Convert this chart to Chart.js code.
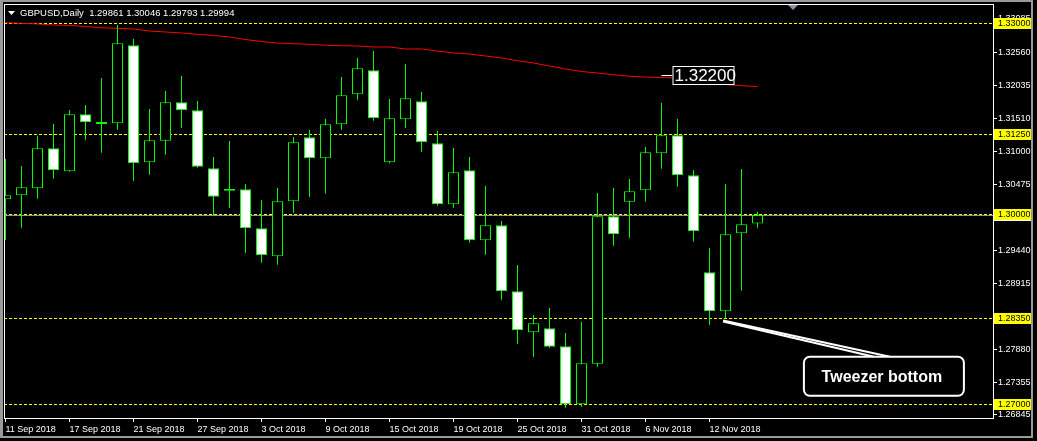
<!DOCTYPE html>
<html>
<head>
<meta charset="utf-8">
<script src="https://cdn.jsdelivr.net/npm/chart.js@4.4.1/dist/chart.umd.min.js"></script>
<style>
  html, body { margin: 0; padding: 0; background: #000; }
  canvas { display: block; }
</style>
</head>
<body>
<canvas id="chart" width="1037" height="441"></canvas>
<script>
// GBPUSD daily candles, 11 Sep - 15 Nov 2018
const dates = [
  '11 Sep 2018', '12 Sep 2018', '13 Sep 2018', '14 Sep 2018',
  '17 Sep 2018', '18 Sep 2018', '19 Sep 2018', '20 Sep 2018', '21 Sep 2018',
  '24 Sep 2018', '25 Sep 2018', '26 Sep 2018', '27 Sep 2018', '28 Sep 2018',
  '1 Oct 2018', '2 Oct 2018', '3 Oct 2018', '4 Oct 2018', '5 Oct 2018',
  '8 Oct 2018', '9 Oct 2018', '10 Oct 2018', '11 Oct 2018', '12 Oct 2018',
  '15 Oct 2018', '16 Oct 2018', '17 Oct 2018', '18 Oct 2018', '19 Oct 2018',
  '22 Oct 2018', '23 Oct 2018', '24 Oct 2018', '25 Oct 2018', '26 Oct 2018',
  '29 Oct 2018', '30 Oct 2018', '31 Oct 2018', '1 Nov 2018', '2 Nov 2018',
  '5 Nov 2018', '6 Nov 2018', '7 Nov 2018', '8 Nov 2018', '9 Nov 2018',
  '12 Nov 2018', '13 Nov 2018', '14 Nov 2018', '15 Nov 2018'
];
const open = [
  1.30241, 1.30304, 1.30415, 1.31045, 1.30683, 1.31581, 1.31460, 1.31439, 1.32669, 1.30824,
  1.31165, 1.31770, 1.31644, 1.30730, 1.30405, 1.30399, 1.29784, 1.29343, 1.30210, 1.31219,
  1.30888, 1.31424, 1.31896, 1.32275, 1.30824, 1.31502, 1.31786, 1.31124, 1.30162, 1.30698,
  1.29595, 1.29831, 1.28791, 1.28144, 1.28207, 1.27924, 1.27009, 1.27649, 1.29973, 1.30203,
  1.30383, 1.30966, 1.31250, 1.30620, 1.29090, 1.28475, 1.29705, 1.29861
];
const high = [
  1.30876, 1.30766, 1.31244, 1.31428, 1.31649, 1.31728, 1.32153, 1.32989, 1.32768, 1.31665,
  1.31948, 1.32185, 1.31791, 1.30908, 1.31160, 1.30482, 1.30225, 1.30419, 1.31223, 1.31334,
  1.31507, 1.32169, 1.32469, 1.32579, 1.31822, 1.32374, 1.31933, 1.31318, 1.31050, 1.30908,
  1.30451, 1.29899, 1.29205, 1.28417, 1.28527, 1.28133, 1.28307, 1.30340, 1.30419, 1.30561,
  1.31066, 1.31759, 1.31507, 1.30703, 1.29473, 1.30478, 1.30719, 1.30046
];
const low = [
  1.29600, 1.29793, 1.30251, 1.30566, 1.30675, 1.31181, 1.30976, 1.31338, 1.30534, 1.30629,
  1.30944, 1.31370, 1.30739, 1.29994, 1.30109, 1.29399, 1.29242, 1.29210, 1.30030, 1.30282,
  1.30329, 1.31338, 1.31811, 1.31480, 1.30810, 1.31370, 1.30992, 1.30140, 1.30109, 1.29557,
  1.29368, 1.28658, 1.27965, 1.27760, 1.27902, 1.26956, 1.26972, 1.27602, 1.29510, 1.29636,
  1.30203, 1.30724, 1.30440, 1.29573, 1.28264, 1.28365, 1.28800, 1.29793
];
const close = [
  1.30304, 1.30430, 1.31045, 1.30698, 1.31581, 1.31455, 1.31430, 1.32700, 1.30809, 1.31171,
  1.31770, 1.31644, 1.30755, 1.30282, 1.30375, 1.29784, 1.29358, 1.30210, 1.31140, 1.30888,
  1.31424, 1.31881, 1.32306, 1.31518, 1.31518, 1.31833, 1.31140, 1.30162, 1.30667, 1.29595,
  1.29831, 1.28791, 1.28176, 1.28286, 1.27917, 1.27009, 1.27656, 1.29973, 1.29689, 1.30367,
  1.30982, 1.31250, 1.30620, 1.29737, 1.28475, 1.29689, 1.29847, 1.29994
];
// moving average (red line)
const ma = [
  1.33025, 1.33016, 1.33005, 1.32989, 1.32984, 1.32965, 1.32945, 1.32937, 1.32926, 1.32894,
  1.32879, 1.32863, 1.32842, 1.32823, 1.32800, 1.32760, 1.32729, 1.32705, 1.32694, 1.32685,
  1.32669, 1.32663, 1.32658, 1.32642, 1.32642, 1.32611, 1.32611, 1.32579, 1.32548, 1.32532,
  1.32500, 1.32469, 1.32426, 1.32390, 1.32343, 1.32295, 1.32256, 1.32232, 1.32205, 1.32180,
  1.32169, 1.32161, 1.32153, 1.32122, 1.32090, 1.32051, 1.32032, 1.32019
];
const priceTicks = [1.33085, 1.32560, 1.32035, 1.31510, 1.31000, 1.30475, 1.29440, 1.28915, 1.27880, 1.27355, 1.26845];
const levels = [1.33000, 1.31250, 1.30000, 1.28350, 1.27000];
const markPrice = 1.32200;
const calloutText = 'Tweezer bottom';

const FONT = "'Liberation Sans', Arial, sans-serif";
const GREEN = '#00ff00';
const last = dates.length - 1;

function bodyColor(i) {
  if (Math.abs(close[i] - open[i]) < 0.0004) return GREEN;
  return close[i] > open[i] ? '#000000' : '#ffffff';
}

const overlay = {
  id: 'overlay',
  beforeDatasetsDraw(chart) {
    const { ctx, chartArea: a, scales: { y } } = chart;
    ctx.save();
    // bid line
    const by = Math.round(y.getPixelForValue(close[last])) + 0.5;
    ctx.strokeStyle = '#8a94a0';
    ctx.lineWidth = 1;
    ctx.beginPath(); ctx.moveTo(a.left, by); ctx.lineTo(a.right, by); ctx.stroke();
    // horizontal levels
    ctx.strokeStyle = '#ffff00';
    ctx.setLineDash([3, 2]);
    levels.forEach(v => {
      const py = Math.round(y.getPixelForValue(v)) - 0.5;
      ctx.beginPath(); ctx.moveTo(a.left, py); ctx.lineTo(a.right, py); ctx.stroke();
    });
    ctx.restore();
  },
  afterDatasetsDraw(chart) {
    const { ctx, scales: { x, y } } = chart;
    ctx.save();
    // 1.32200 price label
    const lx = x.getPixelForValue(41);
    const ly = Math.round(y.getPixelForValue(markPrice));
    ctx.strokeStyle = '#ffffff';
    ctx.lineWidth = 1;
    ctx.beginPath(); ctx.moveTo(lx, ly + 0.5); ctx.lineTo(lx + 11, ly + 0.5); ctx.stroke();
    ctx.fillStyle = '#000';
    ctx.fillRect(lx + 11, ly - 9, 61, 18);
    ctx.strokeRect(lx + 11.5, ly - 8.5, 61, 18);
    ctx.fillStyle = '#ffffff';
    ctx.font = '17px ' + FONT;
    ctx.textBaseline = 'middle';
    ctx.textAlign = 'left';
    ctx.fillText(markPrice.toFixed(5), lx + 13, ly + 1);

    // Tweezer bottom callout
    const tx = x.getPixelForValue(44.85), ty = y.getPixelForValue(1.28330);
    const bx = x.getPixelForValue(49.9), bx2 = x.getPixelForValue(59.9);
    const bt = y.getPixelForValue(1.27760), bb = y.getPixelForValue(1.27142);
    ctx.lineWidth = 2;
    ctx.strokeStyle = '#ffffff';
    ctx.beginPath(); ctx.moveTo(tx, ty); ctx.lineTo(bx + 86, bt); ctx.stroke();
    ctx.beginPath(); ctx.moveTo(tx, ty + 1); ctx.lineTo(bx + 70, bt); ctx.stroke();
    ctx.beginPath();
    ctx.roundRect(bx, bt, bx2 - bx, bb - bt, 6);
    ctx.fillStyle = '#000';
    ctx.fill();
    ctx.stroke();
    ctx.fillStyle = '#ffffff';
    ctx.font = 'bold 16px ' + FONT;
    ctx.textAlign = 'center';
    ctx.fillText(calloutText, (bx + bx2) / 2 - 2, (bt + bb) / 2 + 1);
    ctx.restore();
  },
  afterDraw(chart) {
    const { ctx, chartArea: a, scales: { y } } = chart;
    ctx.save();
    // bid label (mostly hidden) and level labels on the price axis
    const by = y.getPixelForValue(close[last]);
    ctx.fillStyle = '#ffffff';
    ctx.fillRect(a.right + 1, Math.round(by) - 5, 37, 11);
    ctx.font = '9px ' + FONT;
    ctx.textBaseline = 'middle';
    ctx.textAlign = 'left';
    levels.forEach(v => {
      const py = Math.round(y.getPixelForValue(v));
      ctx.fillStyle = '#ffff00';
      ctx.fillRect(a.right + 1, py - 6, 37, 11);
      ctx.fillStyle = '#000';
      ctx.fillText(v.toFixed(5), a.right + 5, py);
    });
    // chart frame
    ctx.fillStyle = '#ffffff';
    ctx.fillRect(a.left, a.top, 1, a.bottom - a.top);
    ctx.fillRect(a.left, a.top, a.right - a.left, 1);
    // window edges
    ctx.fillStyle = '#9a9a9a';
    ctx.fillRect(0, 0, 3, 441);
    ctx.fillRect(0, 0, 1037, 2);
    ctx.fillRect(1031, 0, 2, 441);
    ctx.fillRect(0, 436, 1037, 2);
    ctx.fillStyle = '#000';
    ctx.fillRect(1033, 0, 4, 441);
    ctx.fillRect(0, 438, 1037, 3);
    // chart shift marker
    ctx.fillStyle = '#8a94a0';
    ctx.beginPath(); ctx.moveTo(788, 5); ctx.lineTo(798, 5); ctx.lineTo(793, 10); ctx.closePath(); ctx.fill();
    // title
    ctx.fillStyle = '#ffffff';
    ctx.beginPath(); ctx.moveTo(8, 11); ctx.lineTo(15, 11); ctx.lineTo(11.5, 15); ctx.closePath(); ctx.fill();
    ctx.font = '9.5px ' + FONT;
    ctx.textAlign = 'left';
    ctx.textBaseline = 'alphabetic';
    const ohlc = [open[last], high[last], low[last], close[last]].map(v => v.toFixed(5)).join(' ');
    ctx.fillText('GBPUSD,Daily  ' + ohlc, 20, 16);
    ctx.restore();
  }
};

const ctx = document.getElementById('chart').getContext('2d');
new Chart(ctx, {
  data: {
    datasets: [
      {
        type: 'bar',
        label: 'body',
        order: 0,
        data: dates.map((d, i) => ({ x: i, y: [open[i], close[i]] })),
        backgroundColor: c => bodyColor(c.dataIndex),
        borderColor: GREEN,
        borderWidth: 1,
        borderSkipped: false,
        barThickness: 11,
        grouped: false,
        inflateAmount: 0,
        clip: 0
      },
      {
        type: 'bar',
        label: 'wick',
        order: 1,
        data: dates.map((d, i) => ({ x: i, y: [low[i], high[i]] })),
        backgroundColor: GREEN,
        borderWidth: 0,
        barThickness: 1,
        grouped: false,
        inflateAmount: 0,
        clip: 0
      },
      {
        type: 'line',
        label: 'MA',
        order: 2,
        data: dates.map((d, i) => ({ x: i, y: ma[i] })),
        borderColor: '#ff0000',
        borderWidth: 1,
        pointRadius: 0,
        tension: 0,
        clip: 0
      }
    ]
  },
  options: {
    responsive: false,
    animation: false,
    layout: { padding: { left: 4, top: 4, right: 0, bottom: 0 } },
    plugins: { legend: { display: false }, tooltip: { enabled: false } },
    scales: {
      x: {
        type: 'linear',
        offset: false,
        min: -0.09375,
        max: 61.71875,
        afterFit: s => { s.height = 23; s.paddingLeft = 0; s.paddingRight = 0; },
        afterBuildTicks: s => { s.ticks = dates.map((d, i) => ({ value: i })).filter(t => t.value % 4 === 0); },
        ticks: {
          color: '#ffffff',
          font: { family: FONT, size: 9 },
          align: 'start',
          padding: 2,
          maxRotation: 0,
          autoSkip: false,
          callback: v => dates[v]
        },
        grid: { drawOnChartArea: false, offset: false, tickLength: 4, color: '#ffffff' },
        border: { color: '#ffffff' }
      },
      y: {
        position: 'right',
        min: 1.26793,
        max: 1.33320,
        afterFit: s => { s.width = 44; s.paddingTop = 0; s.paddingBottom = 0; },
        afterBuildTicks: s => { s.ticks = priceTicks.map(v => ({ value: v })); },
        ticks: {
          color: '#ffffff',
          font: { family: FONT, size: 9 },
          padding: 1,
          callback: v => v.toFixed(5)
        },
        grid: { drawOnChartArea: false, tickLength: 4, color: '#ffffff' },
        border: { color: '#ffffff' }
      }
    }
  },
  plugins: [overlay]
});
</script>
</body>
</html>
